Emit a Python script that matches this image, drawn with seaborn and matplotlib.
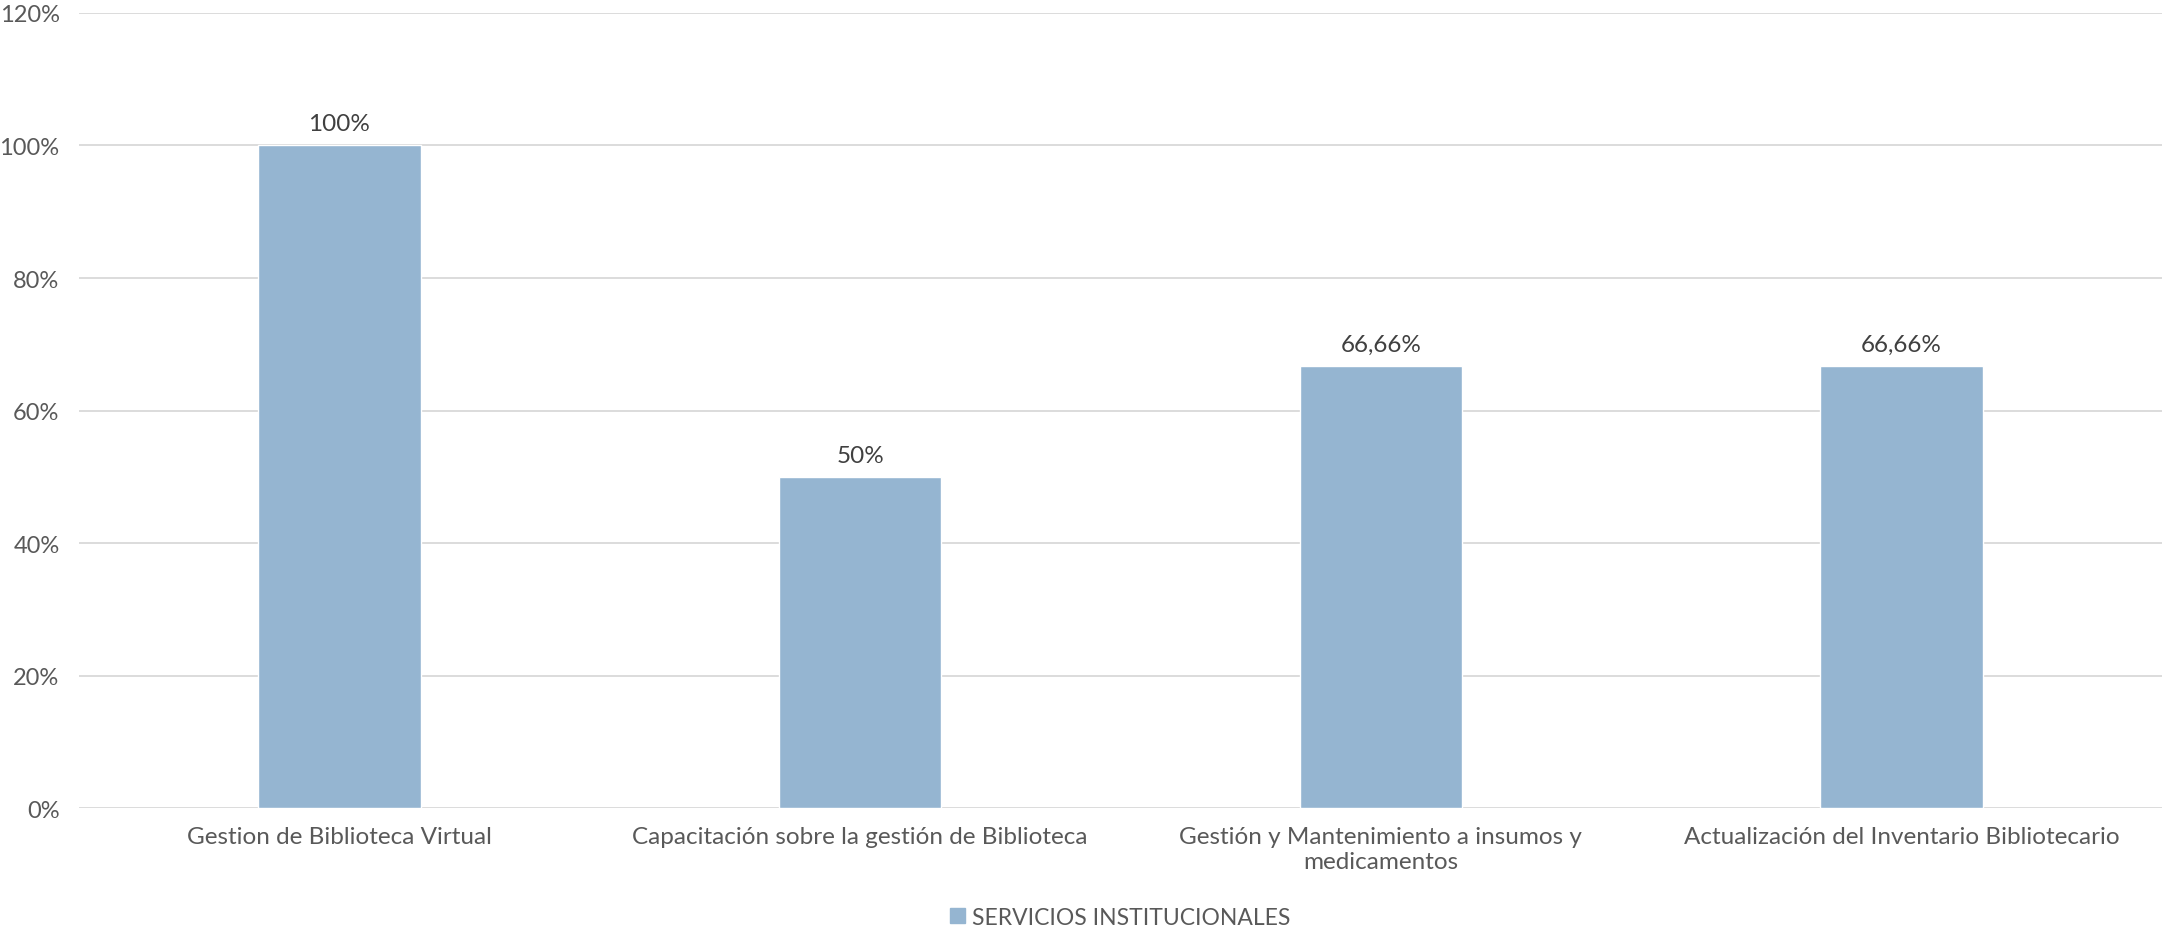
import pandas as pd
import numpy as np
import matplotlib.pyplot as plt
import seaborn as sns
from matplotlib.ticker import PercentFormatter
from matplotlib.patches import Patch

categories = ["Gestion de Biblioteca Virtual",
              "Capacitación sobre la gestión de Biblioteca",
              "Gestión y Mantenimiento a insumos y\nmedicamentos",
              "Actualización del Inventario Bibliotecario"]
values = [1.0, 0.5, 0.6666, 0.6666]
value_labels = ["100%", "50%", "66,66%", "66,66%"]
series = "SERVICIOS INSTITUCIONALES"

sns.set_style("white")
plt.rcParams['font.family'] = ['Lato', 'DejaVu Sans']

df = pd.DataFrame({"cat": categories, "val": values})
bar_color = "#95B5D1"

fig = plt.figure(figsize=(21.65, 9.29), dpi=100)
ax = fig.add_axes([0.0365, 0.129, 0.962, 0.856])

sns.barplot(data=df, x="cat", y="val", color=bar_color, width=0.312, ax=ax,
            saturation=1, zorder=2)

ax.set_ylim(0, 1.2)
ax.set_yticks(np.arange(0, 1.21, 0.2))
ax.yaxis.set_major_formatter(PercentFormatter(1.0, decimals=0))
ax.grid(axis='y', color='#D9D9D9', linewidth=1.3, zorder=0)
ax.set_axisbelow(True)
for s in ax.spines.values():
    s.set_visible(False)
ax.set_xlabel("")
ax.set_ylabel("")
ax.tick_params(axis='both', length=0, labelsize=17.5, labelcolor='#595959')
ax.tick_params(axis='x', pad=13)
ax.tick_params(axis='y', pad=14, labelsize=17)

for p, lab in zip(ax.patches, value_labels):
    ax.annotate(lab, (p.get_x() + p.get_width() / 2, p.get_height()),
                xytext=(0, 8), textcoords='offset points', ha='center', va='bottom',
                fontsize=17.5, color='#404040')

ax.legend(handles=[Patch(color=bar_color, label=series)], loc='center',
          bbox_to_anchor=(0.5, -0.137), frameon=False, fontsize=16.5,
          handlelength=0.65, handleheight=0.65, handletextpad=0.3,
          labelcolor='#595959')

fig.savefig("out.png", dpi=100)
